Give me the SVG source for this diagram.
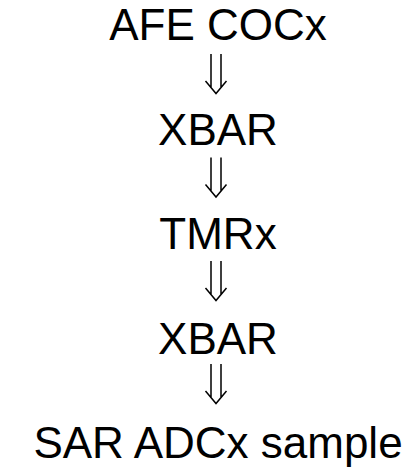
<svg xmlns="http://www.w3.org/2000/svg" xmlns:xlink="http://www.w3.org/1999/xlink" width="416" height="472" viewBox="0 0 416 472">
  <style>
    .label { font-family: "Liberation Sans", Arial, sans-serif; font-size: 44px; fill: #000; text-anchor: middle; }
    .arrow { fill: none; stroke: #000; stroke-width: 1.5; stroke-linecap: butt; stroke-linejoin: miter; }
  </style>
  <defs>
    <!-- double-stem downward arrow, origin at top centre -->
    <g id="dbl-down">
      <path class="arrow" d="M-5 0 V33.5 M5 0 V33.5 M-10.5 27 L0 39.5 L10.5 27"/>
    </g>
  </defs>
  <rect width="416" height="472" fill="#fff"/>

  <g id="connectors">
    <use xlink:href="#dbl-down" transform="translate(216 54)"/>
    <use xlink:href="#dbl-down" transform="translate(216 157.5)"/>
    <use xlink:href="#dbl-down" transform="translate(216 261)"/>
    <use xlink:href="#dbl-down" transform="translate(216 364)"/>
  </g>

  <g id="afe-coc"><text class="label" x="218" y="40">AFE COCx</text></g>
  <g id="xbar-1"><text class="label" x="218" y="144.5">XBAR</text></g>
  <g id="tmr"><text class="label" x="218" y="249">TMRx</text></g>
  <g id="xbar-2"><text class="label" x="218" y="353.5">XBAR</text></g>
  <g id="sar-adc"><text class="label" x="218" y="458">SAR ADCx sample</text></g>
</svg>
